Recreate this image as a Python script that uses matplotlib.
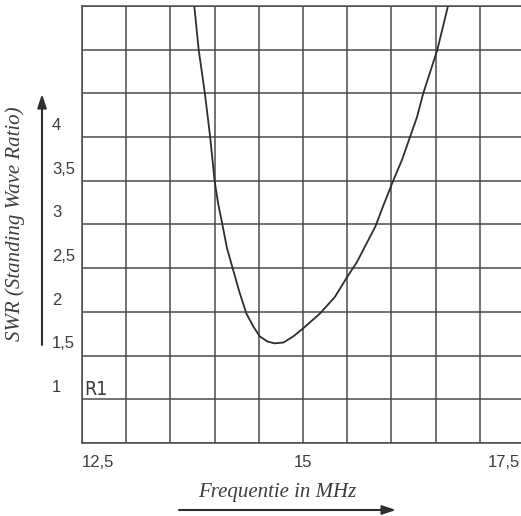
import numpy as np
import matplotlib
matplotlib.use('Agg')
import matplotlib.pyplot as plt
from matplotlib.patches import FancyArrowPatch

# SWR curve
freq = [13.77, 13.82, 13.89, 13.95, 14.00, 14.04, 14.09, 14.14, 14.21, 14.28,
        14.36, 14.44, 14.51, 14.60, 14.68, 14.78, 14.89, 15.00, 15.19, 15.36,
        15.50, 15.61, 15.82, 15.91, 16.02, 16.12, 16.21, 16.29, 16.36, 16.44,
        16.52, 16.64]
swr = [5.5, 5.0, 4.5, 4.0, 3.5, 3.24, 2.99, 2.73, 2.48, 2.23,
       1.98, 1.83, 1.72, 1.66, 1.64, 1.65, 1.72, 1.81, 1.98, 2.17,
       2.40, 2.57, 2.98, 3.22, 3.5, 3.74, 4.0, 4.23, 4.5, 4.75,
       5.0, 5.5]

x_ticks = [12.5, 15, 17.5]
x_tick_labels = ['12,5', '15', '17,5']
y_ticks = [1, 1.5, 2, 2.5, 3, 3.5, 4]
y_tick_labels = ['1', '1,5', '2', '2,5', '3', '3,5', '4']

grid_col = '#4a4a4a'
text_col = '#3c3c3c'
sans = ['Liberation Sans', 'DejaVu Sans']
serif = ['Liberation Serif', 'DejaVu Serif']

fig = plt.figure(figsize=(5.21, 5.16), dpi=100)
ax = fig.add_axes([82 / 521, 73 / 516, 442 / 521, 437 / 516])

ax.set_xlim(12.5, 17.5)
ax.set_ylim(0.5, 5.5)
ax.set_xticks(np.arange(12.5, 17.51, 0.5))
ax.set_yticks(np.arange(0.5, 5.51, 0.5))
ax.tick_params(length=0, labelbottom=False, labelleft=False)
ax.grid(True, color=grid_col, linewidth=1.1)
for s in ax.spines.values():
    s.set_color(grid_col)
    s.set_linewidth(1.1)

ax.plot(freq, swr, color='#2e2e2e', linewidth=1.3, zorder=3,
        solid_joinstyle='round')

# tick labels placed like the original (a bit above the grid lines)
for v, lab in zip(y_ticks, y_tick_labels):
    ax.text(12.16, v + 0.135, lab, ha='left', va='center', fontsize=12,
            family=sans, color=text_col, clip_on=False)
aligns = ['left', 'center', 'right']
xpos = [12.5, 15, 17.46]
for x, lab, ha in zip(xpos, x_tick_labels, aligns):
    ax.text(x, 0.28, lab, ha=ha, va='center', fontsize=12,
            family=sans, color=text_col, clip_on=False)

ax.text(12.52, 1.0, 'R1', ha='left', va='bottom', fontsize=14,
        family=['Liberation Sans Narrow', 'DejaVu Sans'],
        fontstretch='condensed', color=text_col)

# axis titles with arrows
fig.text(15 / 521, 1 - 224 / 516, 'SWR (Standing Wave Ratio)', rotation=90,
         ha='center', va='center', fontsize=15, style='italic',
         family=serif, color=text_col)
fig.text(277 / 521, 1 - 492 / 516, 'Frequentie in MHz', ha='center',
         va='center', fontsize=15, style='italic', family=serif, color=text_col)

arrow = dict(arrowstyle='-|>,head_length=0.45,head_width=0.15',
             mutation_scale=18, color='#2e2e2e', lw=1.5,
             shrinkA=0, shrinkB=0)
fig.add_artist(FancyArrowPatch(
    (42 / 521, 1 - 345 / 516), (42 / 521, 1 - 94 / 516),
    transform=fig.transFigure, **arrow))
fig.add_artist(FancyArrowPatch(
    (179 / 521, 1 - 510 / 516), (396 / 521, 1 - 510 / 516),
    transform=fig.transFigure, **arrow))

fig.savefig('out.png', dpi=100)
